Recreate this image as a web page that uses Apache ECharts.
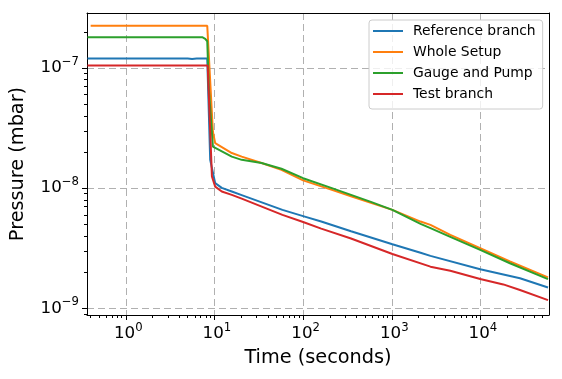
<!DOCTYPE html>
<html>
<head>
<meta charset="utf-8">
<script src="https://cdn.jsdelivr.net/npm/echarts@6.0.0/dist/echarts.min.js"></script>
<style>
html, body { margin: 0; padding: 0; background: #fff; }
#main { width: 562px; height: 379px; }
</style>
</head>
<body>
<div id="main"></div>
<script>
// time in seconds, pressure in mbar
const refTime = [0.37, 5.0, 5.6, 6.3, 8.3, 8.96, 10.2, 12.1, 15.7, 20.3, 58.5, 100, 160, 347, 1016, 2110, 2730, 9930, 27900, 57800];
const refPressure = [1.2e-7, 1.2e-7, 1.19e-7, 1.2e-7, 1.2e-7, 1.72e-8, 1.10e-8, 1.006e-8, 9.38e-9, 8.75e-9, 6.59e-9, 5.85e-9, 5.27e-9, 4.38e-9, 3.41e-9, 2.90e-9, 2.73e-9, 2.11e-9, 1.78e-9, 1.49e-9];

const wholeTime = [0.402, 8.3, 9.61, 10.2, 15.7, 20.3, 34, 57, 100, 207, 347, 581, 1016, 2110, 2730, 4570, 9930, 21500, 57800];
const wholePressure = [2.25e-7, 2.25e-7, 2.95e-8, 2.37e-8, 1.96e-8, 1.83e-8, 1.62e-8, 1.42e-8, 1.16e-8, 9.72e-9, 8.56e-9, 7.54e-9, 6.59e-9, 5.27e-9, 4.95e-9, 4.08e-9, 3.16e-9, 2.45e-9, 1.81e-9];

const gaugeTime = [0.37, 7.36, 7.88, 8.3, 8.67, 9.61, 9.86, 15.7, 20.3, 34, 57, 100, 207, 347, 581, 1016, 2110, 2730, 4570, 9930, 21500, 57800];
const gaugePressure = [1.8e-7, 1.8e-7, 1.75e-7, 1.67e-7, 6.58e-8, 2.22e-8, 2.15e-8, 1.83e-8, 1.72e-8, 1.62e-8, 1.45e-8, 1.21e-8, 1.006e-8, 8.79e-9, 7.69e-9, 6.59e-9, 5.04e-9, 4.64e-9, 3.93e-9, 3.06e-9, 2.37e-9, 1.75e-9];

const testTime = [0.37, 8.4, 9.37, 10.2, 12.1, 15.7, 20.3, 58.5, 100, 160, 347, 1016, 2730, 4570, 9930, 18100, 27900, 57800];
const testPressure = [1.05e-7, 1.05e-7, 1.25e-8, 1.03e-8, 9.37e-9, 8.79e-9, 8.17e-9, 5.99e-9, 5.22e-9, 4.60e-9, 3.81e-9, 2.83e-9, 2.22e-9, 2.05e-9, 1.75e-9, 1.58e-9, 1.42e-9, 1.17e-9];

const seriesNames = ['Reference branch', 'Whole Setup', 'Gauge and Pump', 'Test branch'];
const colors = ['#1f77b4', '#ff7f0e', '#2ca02c', '#d62728'];

// axis ranges and tick exponents
const xLo = 0.3656, xHi = 59290;
const yLo = 8.79e-10, yHi = 2.87e-7;
const xMajorExp = [0, 1, 2, 3, 4];
const yMajorExp = [-9, -8, -7];

const font = 'DejaVu Sans';

// minor ticks at 2..9 x 10^n (in log10 space, like the helper axes)
function minorTicks(lo, hi) {
    let out = [];
    for (let n = Math.floor(Math.log10(lo)); n <= Math.ceil(Math.log10(hi)); n++) {
        for (let k = 2; k <= 9; k++) {
            let v = k * Math.pow(10, n);
            if (v > lo && v < hi) out.push(Math.log10(v));
        }
    }
    return out;
}

function powLabel(v) {
    let e = Math.round(v);
    return '{b|10}{s|' + (e < 0 ? '\u2212' + (-e) : e) + '}';
}

const labelRich = {
    b: { fontSize: 16.7, lineHeight: 24, fontFamily: font, color: '#000', verticalAlign: 'middle' },
    s: { fontSize: 11.7, lineHeight: 12, fontFamily: font, color: '#000', verticalAlign: 'top' }
};
const gridLine = { show: true, lineStyle: { color: '#b0b0b0', width: 1, type: [7, 4] } };
const blackLine = { show: true, onZero: false, lineStyle: { color: '#000', width: 1 } };
const noLine = { show: false, onZero: false };

function pairs(t, p) {
    return t.map((v, i) => [v, p[i]]);
}

let chart = echarts.init(document.getElementById('main'), null, { renderer: 'canvas' });
chart.setOption({
    animation: false,
    backgroundColor: '#fff',
    grid: { left: 84, right: 13, top: 13, bottom: 64, containLabel: false },
    legend: {
        data: seriesNames,
        orient: 'vertical',
        left: 369,
        top: 20,
        icon: 'rect',
        itemWidth: 30,
        itemHeight: 2,
        itemGap: 7,
        padding: [4, 7, 8, 4],
        backgroundColor: 'rgba(255,255,255,0.8)',
        borderColor: '#cccccc',
        borderWidth: 1,
        borderRadius: 3,
        textStyle: { fontSize: 13.9, fontFamily: font, color: '#000', padding: [0, 0, 0, 5] }
    },
    xAxis: [
        {
            type: 'log', logBase: 10, min: xLo, max: xHi,
            name: 'Time (seconds)', nameLocation: 'middle', nameGap: 33,
            nameTextStyle: { fontSize: 19.3, fontFamily: font, color: '#000' },
            axisLine: blackLine, axisTick: { show: false }, axisLabel: { show: false }, splitLine: { show: false }
        },
        {
            type: 'value', min: Math.log10(xLo), max: Math.log10(xHi), position: 'bottom',
            axisLine: noLine,
            axisTick: { show: true, length: 5, customValues: xMajorExp, lineStyle: { color: '#000', width: 1 } },
            axisLabel: { show: true, customValues: xMajorExp, margin: 7, padding: [0, 0, 0, 5], formatter: powLabel, rich: labelRich },
            splitLine: gridLine
        },
        {
            type: 'value', min: Math.log10(xLo), max: Math.log10(xHi), position: 'bottom',
            axisLine: noLine,
            axisTick: { show: true, length: 3, customValues: minorTicks(xLo, xHi), lineStyle: { color: '#000', width: 1 } },
            axisLabel: { show: false }, splitLine: { show: false }
        },
        {
            type: 'value', min: Math.log10(xLo), max: Math.log10(xHi), position: 'top',
            axisLine: blackLine, axisTick: { show: false }, axisLabel: { show: false }, splitLine: { show: false }
        }
    ],
    yAxis: [
        {
            type: 'log', logBase: 10, min: yLo, max: yHi,
            name: 'Pressure (mbar)', nameLocation: 'middle', nameGap: 60, nameRotate: 90,
            nameTextStyle: { fontSize: 19.3, fontFamily: font, color: '#000' },
            axisLine: blackLine, axisTick: { show: false }, axisLabel: { show: false }, splitLine: { show: false }
        },
        {
            type: 'value', min: Math.log10(yLo), max: Math.log10(yHi), position: 'left',
            axisLine: noLine,
            axisTick: { show: true, length: 5, customValues: yMajorExp, lineStyle: { color: '#000', width: 1 } },
            axisLabel: { show: true, customValues: yMajorExp, margin: 8, formatter: powLabel, rich: labelRich },
            splitLine: gridLine
        },
        {
            type: 'value', min: Math.log10(yLo), max: Math.log10(yHi), position: 'left',
            axisLine: noLine,
            axisTick: { show: true, length: 3, customValues: minorTicks(yLo, yHi), lineStyle: { color: '#000', width: 1 } },
            axisLabel: { show: false }, splitLine: { show: false }
        },
        {
            type: 'value', min: Math.log10(yLo), max: Math.log10(yHi), position: 'right',
            axisLine: blackLine, axisTick: { show: false }, axisLabel: { show: false }, splitLine: { show: false }
        }
    ],
    series: [
        [refTime, refPressure],
        [wholeTime, wholePressure],
        [gaugeTime, gaugePressure],
        [testTime, testPressure]
    ].map((d, i) => ({
        name: seriesNames[i],
        type: 'line',
        xAxisIndex: 0,
        yAxisIndex: 0,
        symbol: 'none',
        color: colors[i],
        lineStyle: { width: 2, color: colors[i] },
        data: pairs(d[0], d[1])
    }))
});
</script>
</body>
</html>
